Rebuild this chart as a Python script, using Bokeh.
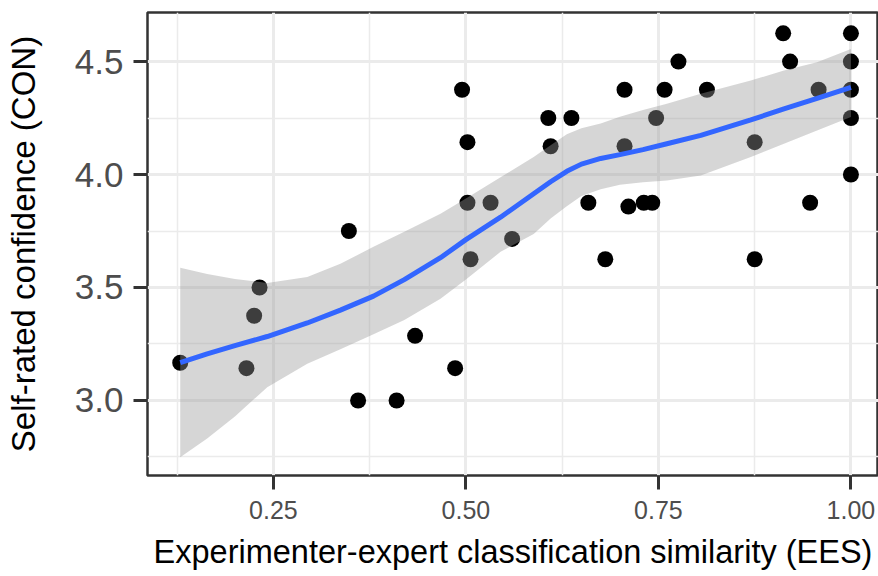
from bokeh.plotting import figure
from bokeh.models import Range1d, FixedTicker, NumeralTickFormatter
from bokeh.embed import file_html
from bokeh.resources import INLINE

# Data points: Experimenter-expert classification similarity (EES) vs self-rated confidence (CON)
ees = [0.129, 0.215, 0.225, 0.232, 0.348, 0.360, 0.410, 0.434, 0.486, 0.495,
       0.502, 0.502, 0.506, 0.532, 0.560, 0.607, 0.610, 0.637, 0.659, 0.681,
       0.706, 0.706, 0.711, 0.731, 0.742, 0.747, 0.758, 0.776, 0.813, 0.875,
       0.875, 0.912, 0.921, 0.947, 0.958, 1.000, 1.000, 1.000, 1.000, 1.000]
con = [3.167, 3.143, 3.375, 3.500, 3.750, 3.000, 3.000, 3.286, 3.143, 4.375,
       4.143, 3.875, 3.625, 3.875, 3.715, 4.250, 4.125, 4.250, 3.875, 3.625,
       4.375, 4.125, 3.858, 3.875, 3.875, 4.250, 4.375, 4.500, 4.375, 4.143,
       3.625, 4.625, 4.500, 3.875, 4.375, 4.625, 4.500, 4.375, 4.250, 4.000]

# Loess smooth and its confidence band
smooth_x = [0.129, 0.164, 0.200, 0.242, 0.294, 0.337, 0.380, 0.420, 0.467, 0.500,
            0.545, 0.588, 0.610, 0.631, 0.650, 0.675, 0.700, 0.730, 0.761, 0.805,
            0.870, 0.913, 0.956, 1.000]
smooth_y = [3.167, 3.206, 3.243, 3.283, 3.343, 3.400, 3.462, 3.535, 3.632, 3.712,
            3.811, 3.915, 3.968, 4.014, 4.046, 4.071, 4.088, 4.110, 4.136, 4.173,
            4.242, 4.290, 4.337, 4.386]
smooth_hi = [3.587, 3.560, 3.538, 3.520, 3.546, 3.605, 3.680, 3.747, 3.826, 3.894,
             3.988, 4.077, 4.130, 4.178, 4.205, 4.226, 4.256, 4.285, 4.313, 4.357,
             4.416, 4.460, 4.497, 4.556]
smooth_lo = [2.749, 2.832, 2.929, 3.059, 3.162, 3.227, 3.293, 3.356, 3.450, 3.535,
             3.658, 3.737, 3.805, 3.860, 3.905, 3.935, 3.955, 3.966, 3.973, 3.996,
             4.077, 4.136, 4.195, 4.254]

x_major = [0.25, 0.50, 0.75, 1.00]
x_minor = [0.125, 0.375, 0.625, 0.875]
y_major = [3.0, 3.5, 4.0, 4.5]
y_minor = [2.75, 3.25, 3.75, 4.25]

FONT = "Liberation Sans"

p = figure(width=878, height=576,
           x_range=Range1d(0.0865, 1.0358), y_range=Range1d(2.668, 4.717),
           output_backend="svg", toolbar_location=None,
           min_border_left=147, min_border_right=0, min_border_top=12, min_border_bottom=101,
           background_fill_color="white", border_fill_color="white")

p.outline_line_color = "#333333"
p.outline_line_width = 2.5

p.xaxis.ticker = FixedTicker(ticks=x_major, minor_ticks=x_minor)
p.yaxis.ticker = FixedTicker(ticks=y_major, minor_ticks=y_minor)
p.xaxis.formatter = NumeralTickFormatter(format="0.00")
p.yaxis.formatter = NumeralTickFormatter(format="0.0")

for ax in (p.xaxis[0], p.yaxis[0]):
    ax.axis_line_color = None
    ax.major_tick_line_color = "#333333"
    ax.major_tick_line_width = 3
    ax.major_tick_out = 14
    ax.major_tick_in = 0
    ax.minor_tick_line_color = None
    ax.major_label_text_color = "#4D4D4D"
    ax.major_label_text_font = FONT
    ax.axis_label_text_font = FONT
    ax.axis_label_text_color = "black"
    ax.axis_label_text_font_style = "normal"

p.xaxis.major_label_text_font_size = "25px"
p.yaxis.major_label_text_font_size = "35px"
p.xaxis.axis_label = "Experimenter-expert classification similarity (EES)"
p.yaxis.axis_label = "Self-rated confidence (CON)"
p.xaxis.axis_label_text_font_size = "32.5px"
p.yaxis.axis_label_text_font_size = "33px"
p.xaxis.major_label_standoff = 11
p.xaxis.axis_label_standoff = 12
p.yaxis.major_label_standoff = 10
p.yaxis.axis_label_standoff = 30

for g in (p.xgrid[0], p.ygrid[0]):
    g.grid_line_color = "#EBEBEB"
    g.grid_line_width = 3
    g.minor_grid_line_color = "#EBEBEB"
    g.minor_grid_line_width = 1.5

p.scatter(ees, con, size=16, color="black", line_color=None)
p.varea(x=smooth_x, y1=smooth_lo, y2=smooth_hi, fill_color="#999999", fill_alpha=0.4)
p.line(smooth_x, smooth_y, line_color="#3366FF", line_width=5)

open("out.html", "w").write(file_html(p, INLINE))
